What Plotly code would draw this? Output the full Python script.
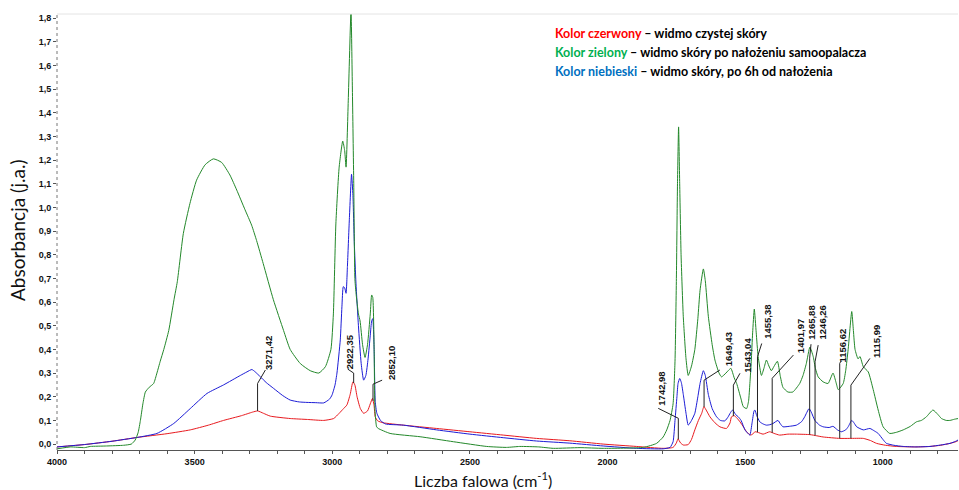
import numpy as np
import plotly.graph_objects as go

# ---------------- data ----------------
red_wn = [4000, 3900, 3800, 3709, 3600, 3516, 3450, 3395, 3330, 3290, 3271, 3250, 3225, 3153, 3090, 3031,
          2995, 2975, 2959, 2947, 2935, 2925, 2918, 2910, 2898, 2886, 2872, 2862, 2854, 2848, 2844, 2835,
          2815, 2742, 2621, 2500, 2379, 2258, 2137, 2016, 1895, 1798, 1762, 1750, 1744, 1735, 1725, 1707,
          1695, 1683, 1670, 1658, 1650, 1640, 1628, 1610, 1592, 1568, 1555, 1550, 1540, 1530, 1519, 1505,
          1495, 1480, 1470, 1465, 1455, 1435, 1411, 1395, 1375, 1345, 1314, 1265, 1240, 1217, 1156, 1120,
          1071, 1045, 1023, 990, 951, 880, 829, 790, 756, 735, 726]
red_abs = [-0.012, -0.002, 0.012, 0.028, 0.044, 0.06, 0.08, 0.10, 0.12, 0.135, 0.14, 0.13, 0.118, 0.108, 0.104, 0.10,
           0.108, 0.13, 0.15, 0.165, 0.21, 0.263, 0.25, 0.20, 0.15, 0.13, 0.14, 0.17, 0.193, 0.16, 0.115, 0.098,
           0.09, 0.08, 0.066, 0.052, 0.038, 0.024, 0.014, 0.0, -0.01, -0.018, -0.014, 0.005, 0.022, 0.005, -0.004, -0.002,
           0.02, 0.06, 0.10, 0.13, 0.158, 0.14, 0.115, 0.09, 0.073, 0.066, 0.09, 0.115, 0.12, 0.11, 0.094, 0.07,
           0.052, 0.038, 0.045, 0.052, 0.05, 0.042, 0.052, 0.045, 0.038, 0.042, 0.042, 0.04, 0.035, 0.03, 0.024, 0.024,
           0.024, 0.015, 0.003, -0.005, -0.01, -0.012, -0.01, -0.005, 0.003, 0.01, 0.015]

blue_wn = [4000, 3900, 3800, 3709, 3637, 3576, 3516, 3455, 3395, 3334, 3310, 3292, 3280, 3261, 3240, 3213,
           3180, 3153, 3120, 3092, 3060, 3031, 3010, 3001, 2990, 2983, 2971, 2965, 2960, 2955, 2950, 2945,
           2938, 2930, 2925, 2920, 2914, 2905, 2895, 2886, 2878, 2870, 2862, 2857, 2853, 2848, 2844, 2838,
           2825, 2807, 2742, 2621, 2500, 2379, 2258, 2137, 2016, 1895, 1798, 1773, 1762, 1755, 1748, 1744,
           1738, 1732, 1725, 1715, 1707, 1695, 1683, 1672, 1664, 1652, 1645, 1634, 1620, 1604, 1590, 1574,
           1562, 1555, 1546, 1535, 1525, 1515, 1501, 1490, 1483, 1475, 1468, 1465, 1458, 1447, 1435, 1423,
           1410, 1399, 1381, 1372, 1363, 1340, 1314, 1295, 1284, 1268, 1260, 1247, 1230, 1217, 1195, 1181,
           1165, 1151, 1135, 1126, 1113, 1105, 1095, 1071, 1047, 1030, 1017, 1000, 987, 960, 926, 880,
           829, 790, 756, 735, 726]
blue_abs = [-0.012, -0.002, 0.012, 0.028, 0.045, 0.087, 0.15, 0.214, 0.25, 0.29, 0.305, 0.315, 0.305, 0.284, 0.26, 0.235,
            0.205, 0.186, 0.178, 0.176, 0.175, 0.174, 0.19, 0.207, 0.25, 0.30, 0.44, 0.58, 0.665, 0.66, 0.637, 0.75,
            0.95, 1.14, 1.05, 0.85, 0.68, 0.50, 0.34, 0.27, 0.29, 0.36, 0.46, 0.52, 0.53, 0.40, 0.18, 0.13,
            0.10, 0.085, 0.08, 0.06, 0.042, 0.027, 0.013, 0.004, -0.008, -0.018, -0.02, -0.014, 0.01, 0.10, 0.20, 0.256,
            0.277, 0.26, 0.21, 0.13, 0.08, 0.10, 0.13, 0.20, 0.256, 0.31, 0.29, 0.21, 0.15, 0.115, 0.10, 0.098,
            0.115, 0.13, 0.144, 0.125, 0.115, 0.10, 0.06, 0.045, 0.038, 0.09, 0.14, 0.144, 0.12, 0.094, 0.085, 0.08,
            0.082, 0.087, 0.10, 0.085, 0.073, 0.075, 0.08, 0.095, 0.115, 0.15, 0.135, 0.10, 0.08, 0.073, 0.07, 0.075,
            0.06, 0.052, 0.06, 0.073, 0.10, 0.09, 0.073, 0.06, 0.066, 0.055, 0.045, 0.02, 0.003, -0.005, -0.01, -0.012,
            -0.01, -0.004, 0.003, 0.012, 0.018]

green_wn = [4000, 3950, 3900, 3879, 3820, 3758, 3730, 3716, 3705, 3697, 3688, 3679, 3665, 3649, 3637, 3625,
            3612, 3594, 3575, 3563, 3541, 3517, 3493, 3462, 3432, 3402, 3372, 3347, 3317, 3293, 3275, 3251,
            3214, 3177, 3153, 3116, 3080, 3049, 3025, 3005, 2996, 2987, 2975, 2962, 2955, 2950, 2942, 2932,
            2927, 2922, 2918, 2914, 2905, 2899, 2890, 2881, 2872, 2862, 2857, 2853, 2848, 2845, 2839, 2833,
            2790, 2681, 2560, 2439, 2367, 2319, 2250, 2197, 2100, 2016, 1870, 1822, 1798, 1785, 1773, 1762,
            1755, 1750, 1746, 1742, 1738, 1733, 1725, 1715, 1707, 1695, 1683, 1672, 1664, 1652, 1645, 1634,
            1620, 1610, 1595, 1586, 1570, 1562, 1552, 1540, 1531, 1515, 1507, 1495, 1488, 1483, 1478, 1473,
            1467, 1460, 1453, 1441, 1432, 1423, 1414, 1405, 1396, 1383, 1373, 1363, 1345, 1327, 1302, 1290,
            1278, 1265, 1253, 1245, 1235, 1217, 1199, 1181, 1170, 1162, 1144, 1135, 1126, 1113, 1107, 1101,
            1090, 1083, 1071, 1053, 1035, 1017, 999, 975, 950, 926, 900, 878, 860, 842, 818, 800,
            787, 770, 756, 740, 726]
green_abs = [-0.02, -0.012, -0.015, -0.01, -0.008, -0.005, 0.0, 0.017, 0.05, 0.10, 0.17, 0.22, 0.24, 0.256, 0.30, 0.35,
             0.40, 0.48, 0.61, 0.686, 0.89, 1.017, 1.115, 1.18, 1.205, 1.19, 1.137, 1.073, 0.99, 0.925, 0.86, 0.763,
             0.61, 0.48, 0.40, 0.34, 0.31, 0.30, 0.327, 0.40, 0.55, 0.93, 1.17, 1.28, 1.24, 1.17, 1.45, 1.83,
             1.50, 1.10, 0.70, 0.64, 0.55, 0.52, 0.42, 0.366, 0.42, 0.55, 0.63, 0.62, 0.40, 0.144, 0.073, 0.066,
             0.045, 0.031, 0.01, -0.01, -0.014, -0.01, -0.012, -0.018, -0.015, -0.018, -0.014, 0.003, 0.03, 0.06, 0.10, 0.17,
             0.35, 0.70, 1.10, 1.34, 1.10, 0.80, 0.54, 0.36, 0.29, 0.33, 0.40, 0.53, 0.65, 0.74, 0.69, 0.54,
             0.42, 0.355, 0.30, 0.284, 0.30, 0.31, 0.32, 0.28, 0.256, 0.19, 0.158, 0.15, 0.18, 0.256, 0.35, 0.47,
             0.57, 0.47, 0.37, 0.29, 0.32, 0.355, 0.33, 0.31, 0.327, 0.35, 0.29, 0.24, 0.22, 0.22, 0.256, 0.29,
             0.34, 0.41, 0.37, 0.32, 0.284, 0.263, 0.256, 0.30, 0.26, 0.23, 0.256, 0.31, 0.40, 0.56, 0.48, 0.40,
             0.36, 0.37, 0.327, 0.305, 0.23, 0.144, 0.073, 0.045, 0.05, 0.06, 0.075, 0.094, 0.10, 0.115, 0.144, 0.125,
             0.108, 0.10, 0.10, 0.105, 0.108]

# peak labels (wavenumbers shown on the chart)
peak_labels = ["3271,42", "2922,35", "2852,10", "1742,98", "1649,43", "1543,04",
               "1455,38", "1401,97", "1265,88", "1246,26", "1156,62", "1115,99"]

y_ticks = [round(0.1 * i, 1) for i in range(19)]
x_ticks = [4000, 3500, 3000, 2500, 2000, 1500, 1000]

legend_lines = [
    ("Kolor czerwony", " – widmo czystej skóry", "#FF0000"),
    ("Kolor zielony", " – widmo skóry po nałożeniu samoopalacza", "#00B050"),
    ("Kolor niebieski", " – widmo skóry, po 6h od nałożenia", "#0070C0"),
]

# ---------------- label layout (leader geometry) ----------------
# (vertical top, leader end wn, leader end abs, text wn, text abs)
label_layout = [
    (0.256, 3243, 0.313, 3234, 0.384),
    (0.300, 2944, 0.317, 2938, 0.389),
    (0.253, 2819, 0.270, 2787, 0.342),
    (0.109, 1816, 0.151, 1804, 0.232),
    (0.270, 1592, 0.313, 1562, 0.401),
    (0.249, 1519, 0.299, 1495, 0.376),
    (0.369, 1440, 0.425, 1422, 0.515),
    (0.278, 1325, 0.376, 1301, 0.456),
    (0.363, 1261, 0.422, 1259, 0.511),
    (0.348, 1235, 0.418, 1220, 0.515),
    (0.341, 1152, 0.351, 1147, 0.418),
    (0.249, 1047, 0.362, 1025, 0.435),
]

fig = go.Figure()
for xs, ys, col, nm in [(red_wn, red_abs, "#e8191e", "red"),
                        (blue_wn, blue_abs, "#1c1cd6", "blue"),
                        (green_wn, green_abs, "#23882a", "green")]:
    fig.add_trace(go.Scatter(x=xs, y=ys, mode="lines",
                             line=dict(color=col, width=1, shape="spline", smoothing=0.5),
                             name=nm, showlegend=False))

red_x_asc = np.array(red_wn[::-1], dtype=float)
red_y_asc = np.array(red_abs[::-1], dtype=float)

shapes = []
annotations = []
for lab, (ytop, ex, ey, tx, ty) in zip(peak_labels, label_layout):
    wn = float(lab.replace(",", "."))
    base = float(np.interp(wn, red_x_asc, red_y_asc))
    shapes.append(dict(type="path", xref="x", yref="y",
                       path=f"M {wn},{base} L {wn},{ytop} L {ex},{ey}",
                       line=dict(color="#222222", width=1)))
    annotations.append(dict(x=tx, y=ty, xref="x", yref="y", text=f"<b>{lab}</b>", showarrow=False,
                            textangle=-90, xanchor="center", yanchor="middle",
                            font=dict(family="Liberation Sans, Arial", size=9.5, color="#111111")))

# dotted y axis line and top border
shapes.append(dict(type="line", xref="paper", yref="paper", x0=0, x1=0, y0=0, y1=1,
                   line=dict(color="#777777", width=1, dash="dot")))
shapes.append(dict(type="line", xref="paper", yref="paper", x0=0, x1=1, y0=1, y1=1,
                   line=dict(color="#e4e4e4", width=1)))

legend_y = [0.956, 0.9106, 0.867]
for (colored, rest, col), ly in zip(legend_lines, legend_y):
    annotations.append(dict(x=0.5505, y=ly, xref="paper", yref="paper", xanchor="left", yanchor="middle",
                            showarrow=False,
                            text=f"<b><span style='color:{col}'>{colored}</span>{rest}</b>",
                            font=dict(family="Lato", size=12.5, color="#000000")))

annotations.append(dict(x=-0.0433, y=0.5046, xref="paper", yref="paper", showarrow=False, textangle=-90,
                        text="Absorbancja (j.a.)", xanchor="center", yanchor="middle",
                        font=dict(family="Lato", size=19, color="#111111")))
annotations.append(dict(x=0.4728, y=-0.0688, xref="paper", yref="paper", showarrow=False,
                        text="Liczba falowa (cm<sup>-1</sup>)", xanchor="center", yanchor="middle",
                        font=dict(family="Lato", size=16, color="#111111")))

fig.update_layout(
    width=959, height=490,
    margin=dict(l=57, r=1, t=14, b=40),
    paper_bgcolor="white", plot_bgcolor="white",
    separators=", ",
    shapes=shapes, annotations=annotations,
    showlegend=False,
)
fig.update_xaxes(range=[4000, 727], tickvals=x_ticks, ticks="outside", ticklen=3, tickcolor="#555555",
                 showline=True, linecolor="#555555", linewidth=1, showgrid=False, zeroline=False,
                 tickfont=dict(family="Liberation Sans, Arial", size=9, color="#111111", weight="bold"),
                 minor=dict(dtick=100, ticks="outside", ticklen=3, tickcolor="#555555", showgrid=False))
fig.update_yaxes(range=[-0.025, 1.817], tickvals=y_ticks, tickformat=".1f", ticks="outside", ticklen=3,
                 tickcolor="#555555", showline=False, showgrid=False, zeroline=False,
                 tickfont=dict(family="Liberation Sans, Arial", size=9, color="#111111", weight="bold"))

fig.write_html("out.html")
